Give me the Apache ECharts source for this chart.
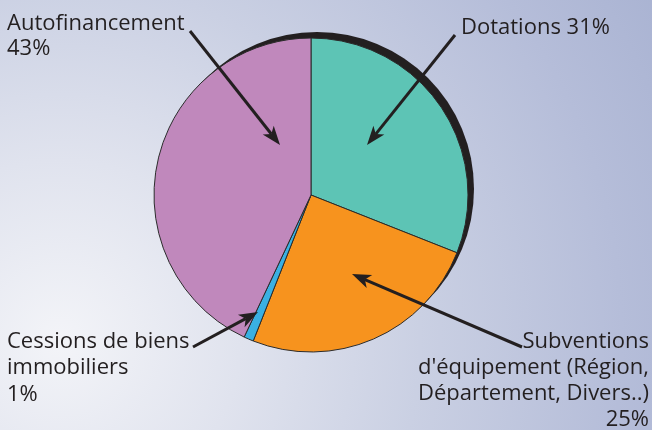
<!DOCTYPE html>
<html>
<head>
<meta charset="utf-8">
<script src="https://cdn.jsdelivr.net/npm/echarts@6/dist/echarts.min.js"></script>
<style>
  html, body { margin: 0; padding: 0; }
  #chart {
    width: 652px; height: 430px;
    background: radial-gradient(circle 720px at 60px 340px, #f3f4f8 0%, #e0e3ee 25%, #cad0e3 50%, #b5bdd9 78%, #a7b1d1 100%);
  }
</style>
</head>
<body>
<div id="chart"></div>
<script>
// sources de financement
var categories = ['Dotations', 'Subventions', 'Cessions', 'Autofinancement'];
var values = [31, 25, 1, 43];
var colors = ['#5dc4b5', '#f7931e', '#3ab0e2', '#c088bc'];
var labelTexts = [
  'Dotations 31%',
  "Subventions\nd'équipement (Région,\nDépartement, Divers..)\n25%",
  'Cessions de biens\nimmobiliers\n1%',
  'Autofinancement\n43%'
];

var ink = '#231f20';

// fleche : trait + pointe
function arrow(x1, y1, x2, y2) {
  var dx = x2 - x1, dy = y2 - y1;
  var len = Math.sqrt(dx * dx + dy * dy);
  var ux = dx / len, uy = dy / len;
  var hl = 19, hw = 7;
  var bx = x2 - ux * hl, by = y2 - uy * hl;
  var nx = bx + ux * 5, ny = by + uy * 5;
  return [
    { type: 'line', silent: true, z: 10,
      shape: { x1: x1, y1: y1, x2: nx, y2: ny },
      style: { stroke: ink, lineWidth: 3 } },
    { type: 'polygon', silent: true, z: 10,
      shape: { points: [[x2, y2], [bx - uy * hw, by + ux * hw], [nx, ny], [bx + uy * hw, by - ux * hw]] },
      style: { fill: ink } }
  ];
}

function label(text, x, y, lh, align) {
  return {
    type: 'text', silent: true, z: 10, x: x, y: y,
    style: {
      text: text, fill: ink, font: '22px "Open Sans", "Noto Sans", sans-serif',
      lineHeight: lh, align: align || 'left', verticalAlign: 'top'
    }
  };
}

var graphics = []
  .concat(arrow(190, 31, 280, 145))
  .concat(arrow(455, 35, 367, 145))
  .concat(arrow(522, 347, 352, 274))
  .concat(arrow(193, 347, 258, 312))
  .concat([
    label(labelTexts[3], 7, 11, 25),
    label(labelTexts[0], 461, 15, 25),
    label(labelTexts[2], 7, 328, 26.8),
    label(labelTexts[1], 649, 329, 26, 'right')
  ]);

var chart = echarts.init(document.getElementById('chart'), null, { renderer: 'canvas' });
chart.setOption({
  animation: false,
  backgroundColor: 'transparent',
  graphic: graphics,
  series: [
    {
      type: 'pie', silent: true, z: 1,
      center: [317, 189], radius: 157,
      label: { show: false }, labelLine: { show: false },
      itemStyle: { color: ink },
      data: [{ name: 'ombre', value: 1 }]
    },
    {
      type: 'pie', z: 2,
      center: [311, 195], radius: 157,
      startAngle: 90, clockwise: true,
      label: { show: false }, labelLine: { show: false },
      emphasis: { disabled: true },
      itemStyle: { borderColor: '#2b2b2b', borderWidth: 1 },
      data: categories.map(function (c, i) {
        return { name: c, value: values[i], itemStyle: { color: colors[i] } };
      })
    }
  ]
});
</script>
</body>
</html>
